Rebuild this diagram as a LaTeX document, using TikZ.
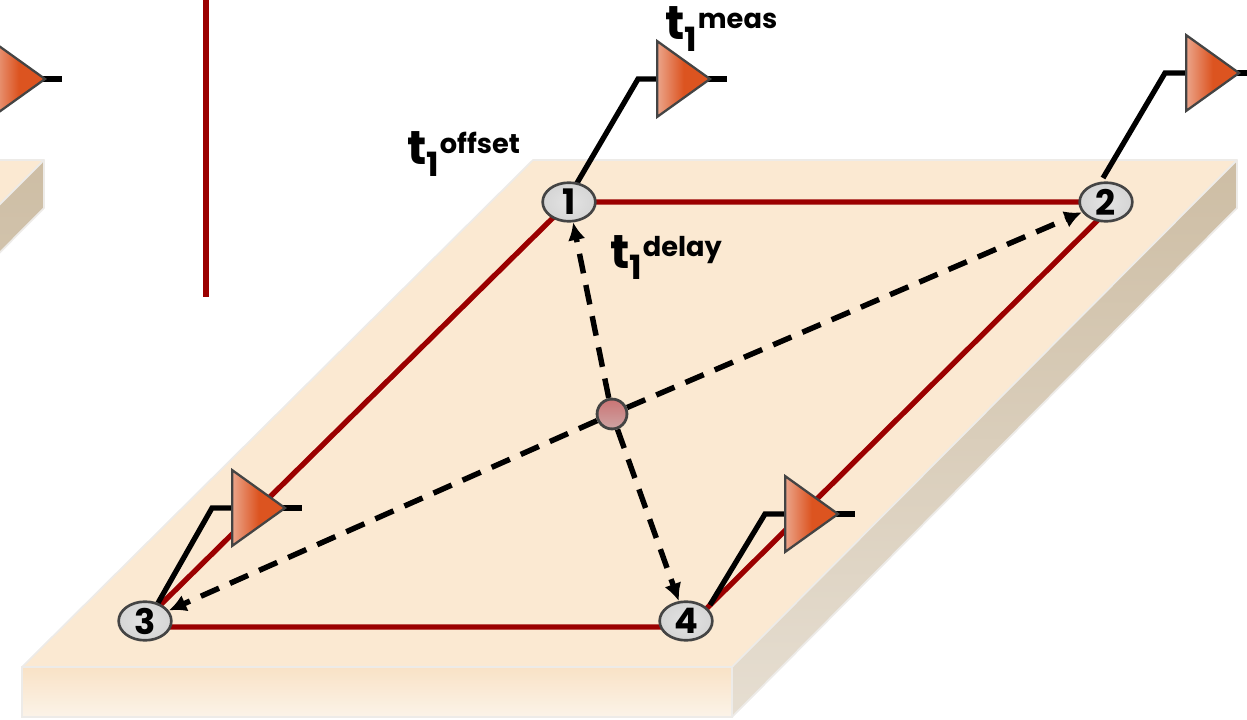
\documentclass[tikz,border=0pt]{standalone}
\usepackage{fontspec}
\setmainfont{Poppins}
\usetikzlibrary{arrows.meta,backgrounds,calc,positioning,shapes.geometric}
\definecolor{wirered}{HTML}{9B0000}
\definecolor{plateface}{HTML}{FBE9D2}
\definecolor{plateedge}{HTML}{EDEBE8}
\definecolor{frontdark}{HTML}{F9E2C6}
\definecolor{frontpale}{HTML}{FBF3E8}
\definecolor{sidedark}{HTML}{C4B193}
\definecolor{sidepale}{HTML}{EFEAE2}
\definecolor{ampdark}{HTML}{DC5420}
\definecolor{amppale}{HTML}{EBA48A}
\definecolor{rimgray}{HTML}{444444}
\newcommand{\tlabel}[1]{\fontsize{27}{27}\selectfont\bfseries t\fontsize{19}{19}\selectfont\raisebox{-6.8pt}{1}\hspace{0.4pt}\fontsize{15.5}{15.5}\selectfont\raisebox{6.6pt}{#1}}
\newcommand{\portnum}[1]{\fontsize{20}{20}\selectfont\bfseries #1}
\begin{document}
\begin{tikzpicture}[x=0.2mm,y=-0.2mm,
  redline/.style={draw=wirered,line width=3pt,line join=miter},
  wire/.style={draw=black,line width=3pt,line join=miter},
  delay/.style={draw=black,line width=3.1pt,dash pattern=on 11.3pt off 6.8pt,-{Latex[length=10pt,width=10pt]}},
  port/.style={ellipse,draw=rimgray,line width=1.5pt,inner color=gray!22,outer color=gray!33,minimum width=30pt,minimum height=22pt,inner sep=0pt},
  amp/.style={isosceles triangle,isosceles triangle stretches,shape border rotate=0,anchor=apex,draw=rimgray,line width=1.3pt,left color=amppale,right color=ampdark,middle color=ampdark,minimum width=43pt,minimum height=30pt,inner sep=0pt},
  hub/.style={circle,draw=rimgray,line width=1.6pt,top color=red!45!gray!75,bottom color=red!30!gray!55,minimum size=17pt,inner sep=0pt},
  tag/.style={anchor=base west,inner sep=0pt}]
  \useasboundingbox (0,0) rectangle (1247,720);
  \clip (0,0) rectangle (1247,720);
  \node[port] (n1) at (569,202) {\portnum{1}};
  \node[port] (n2) at (1106,202) {\portnum{2}};
  \node[port] (n3) at (145,621) {\portnum{3}};
  \node[port] (n4) at (686,621) {\portnum{4}};
  \node[hub] (cen) at (612,414) {};
  % amplifiers
  \node[amp] (a0) at (48,79) {};
  \node[amp] (a1) at (713,79) {};
  \node[amp] (a2) at (1242,73) {};
  \node[amp] (a3) at (288,508) {};
  \node[amp] (a4) at (841,514) {};
  \coordinate (railtop) at (206,0);
  \coordinate (railend) at (206,297);
  \coordinate (c2) at (1116,202);
  \coordinate (c3) at (138,627);
  \coordinate (c4) at (688,627);
  \coordinate (k1) at (638,79);
  \coordinate (k2) at (1165,73);
  \coordinate (k3) at (212,508);
  \coordinate (k4) at (765,514);
  \coordinate (e0) at (62,79);
  \coordinate (e1) at (727,79);
  \coordinate (e2) at (1256,73);
  \coordinate (e3) at (302,508);
  \coordinate (e4) at (855,514);
  \coordinate (s1) at (577,183);
  \coordinate (s2) at (1103,178);
  \coordinate (s3) at (158,603);
  \coordinate (s4) at (710,605);
  \begin{scope}[on background layer]
    \clip (0,0) rectangle (1247,720);
    % the plate, once for the one in view and once for the piece on the left
    \foreach \plateshift in {-1193,0}{
      \begin{scope}[shift={(\plateshift,0)}]
        \begin{scope}
          \clip (732,667) -- (1237,160) -- (1237,208) -- (732,717) -- cycle;
          \node[rotate=45,minimum width=760pt,minimum height=21pt,inner sep=0pt,top color=sidedark,bottom color=sidepale] at (984.5,438) {};
        \end{scope}
        \path[top color=frontdark,bottom color=frontpale] (22,667) rectangle (732,717);
        \draw[plateedge,line width=1pt] (22,667) rectangle (732,717);
        \draw[plateedge,line width=1pt,fill=plateface,line join=round] (533,160) -- (1237,160) -- (732,667) -- (22,667) -- cycle;
        \draw[plateedge,line width=1pt] (1237,160) -- (1237,208) -- (732,717);
      \end{scope}
    }
    \draw[redline] (railtop) -- (railend);
    \draw[redline] (n1.center) -- (c2) -- (c4) -- (c3) -- cycle;
    \draw[wire] (s1) -- (k1) -- (a1.center |- k1);
    \draw[wire] (s2) -- (k2) -- (a2.center |- k2);
    \draw[wire] (s3) -- (k3) -- (a3.center |- k3);
    \draw[wire] (s4) -- (k4) -- (a4.center |- k4);
    \draw[wire] (a0.center) -- (e0);
    \draw[wire] (a1.center) -- (e1);
    \draw[wire] (a2.center) -- (e2);
    \draw[wire] (a3.center) -- (e3);
    \draw[wire] (a4.center) -- (e4);
    \draw[delay] (cen) -- (n1);
    \draw[delay] (cen) -- (n2);
    \draw[delay] (cen) -- (n3);
    \draw[delay] (cen) -- (n4);
  \end{scope}
  \node[tag] (toffset) at (407,165) {\tlabel{offset}};
  \node[tag] (tdelay) at (610,268) {\tlabel{delay}};
  \node[tag] (tmeas) at (665,40) {\tlabel{meas}};
\end{tikzpicture}
\end{document}
